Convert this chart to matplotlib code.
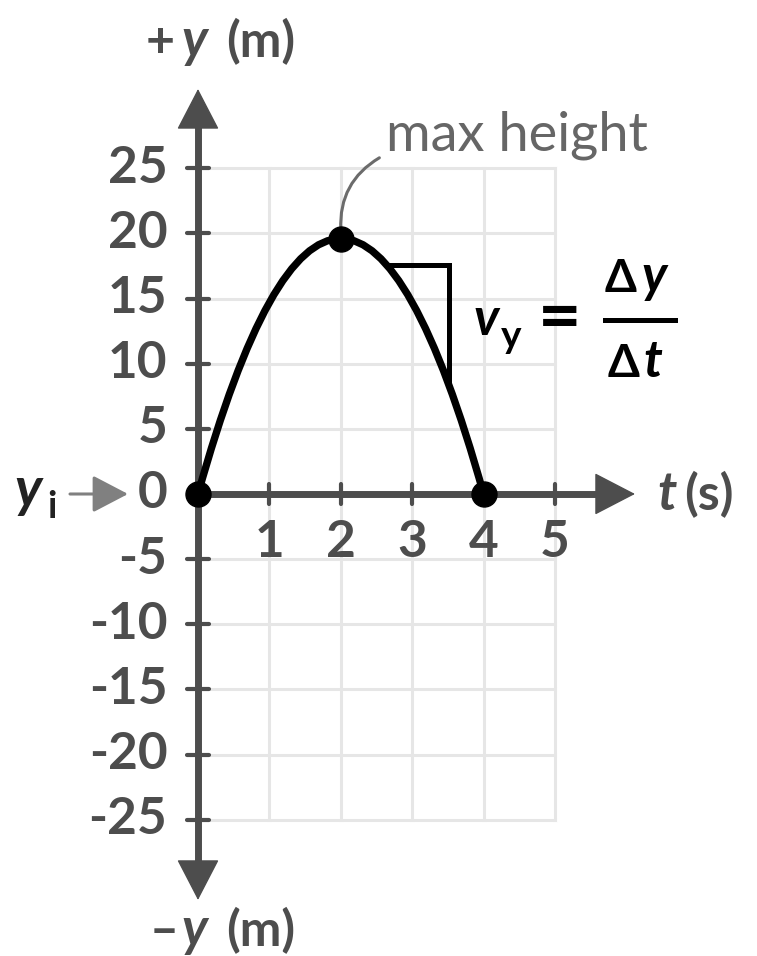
import matplotlib
matplotlib.use('Agg')
import matplotlib.pyplot as plt
from matplotlib.path import Path
from matplotlib.patches import PathPatch
from matplotlib.lines import Line2D

plt.rcParams['font.family'] = ['Lato', 'DejaVu Sans']

# axis ticks
t_ticks = [1, 2, 3, 4, 5]
y_ticks = [-25, -20, -15, -10, -5, 0, 5, 10, 15, 20, 25]

# trajectory: launch, top, landing
t_launch, y_launch = 0, 0
t_peak, y_peak = 2, 19.6
t_land, y_land = 4, 0

# slope triangle on the way down
tri_t = [2.66, 3.52, 3.52]
tri_y = [17.6, 17.6, 8.4]

AX = '#4d4d4d'
GRID = '#e6e6e6'
W, H = 757, 956

fig = plt.figure(figsize=(W / 100, H / 100), dpi=100)
ax = fig.add_axes([0, 0, 1, 1])
ax.set_xlim(-2.773, 7.829)
ax.set_ylim(-35.46, 37.91)
ax.axis('off')


def fx(x, y):
    # pixel (top-left origin) -> figure fraction
    return x / W, 1 - y / H


def ftext(x, y, s, **kw):
    kw.setdefault('va', 'baseline')
    kw.setdefault('ha', 'left')
    fig.text(*fx(x, y), s, **kw)


# grid
for t in t_ticks:
    ax.plot([t, t], [y_ticks[0], y_ticks[-1]], color=GRID, lw=2.2, zorder=1)
for y in y_ticks:
    ax.plot([0, t_ticks[-1]], [y, y], color=GRID, lw=2.2, zorder=1)

# axes with arrow heads
ax.plot([0, 0], [-28.5, 28.5], color=AX, lw=5, zorder=2, solid_capstyle='butt')
ax.plot([0, 5.8], [0, 0], color=AX, lw=5, zorder=2, solid_capstyle='butt')
head = dict(arrowstyle='-|>,head_length=27,head_width=14', mutation_scale=1,
            lw=1, color=AX, shrinkA=0, shrinkB=0)
ax.annotate('', xy=(0, 31.08), xytext=(0, 20), arrowprops=head, zorder=2)
ax.annotate('', xy=(0, -31.16), xytext=(0, -20), arrowprops=head, zorder=2)
ax.annotate('', xy=(6.12, 0), xytext=(5, 0), arrowprops=head, zorder=2)

# tick marks
ytk = [y for y in y_ticks if y != 0]
ax.hlines(ytk, -0.15, 0.15, color=AX, lw=3, zorder=2, capstyle='round')
ax.vlines(t_ticks, -0.8, 0.8, color=AX, lw=3, zorder=2, capstyle='round')

# tick labels
for y in y_ticks:
    ax.text(-0.43, y, str(y), ha='right', va='center', fontsize=37,
            fontweight='bold', color=AX)
for t in t_ticks:
    ax.text(t, -3.7, str(t), ha='center', va='center', fontsize=37,
            fontweight='bold', color=AX)

# trajectory as quadratic curve through launch, peak and landing
ctrl_y = 2 * y_peak - (y_launch + y_land) / 2
path = Path([(t_launch, y_launch), (t_peak, ctrl_y), (t_land, y_land)],
            [Path.MOVETO, Path.CURVE3, Path.CURVE3])
ax.add_patch(PathPatch(path, fill=False, lw=5.3, color='black', zorder=3,
                       capstyle='round'))
ax.plot([t_launch, t_peak, t_land], [y_launch, y_peak, y_land], 'o',
        ms=18, color='black', zorder=4)

# slope triangle
ax.plot(tri_t, tri_y, color='black', lw=3.6, zorder=3, solid_joinstyle='miter')

# max height label with leader
ax.annotate('', xy=(t_peak, y_peak + 0.7), xytext=(2.54, 25.8),
            arrowprops=dict(arrowstyle='-', color='#6b6b6b', lw=2.2,
                            connectionstyle='arc3,rad=0.3', shrinkA=0, shrinkB=0))
ftext(386, 150, 'max height', fontsize=39, color='#666666')

# v_y = dy/dt
ftext(474, 335, 'v', fontsize=37, fontweight='bold', style='italic', color='black')
ftext(501, 348, 'y', fontsize=28, fontweight='bold', color='black')
ftext(560, 319, '=', fontsize=54, fontweight='bold', color='black', ha='center', va='center')
fig.add_artist(Line2D([605 / W, 675 / W], [1 - 320 / H, 1 - 320 / H],
                      color='black', lw=3.6))
ftext(605, 292, 'Δ', fontsize=33, fontweight='bold', color='black')
ftext(641, 292, 'y', fontsize=37, fontweight='bold', style='italic', color='black')
ftext(608, 377, 'Δ', fontsize=33, fontweight='bold', color='black')
ftext(643, 377, 't', fontsize=37, fontweight='bold', style='italic', color='black')

# y_i marker
ftext(14, 507, 'y', fontsize=40, fontweight='bold', style='italic', color='#222222')
ftext(47, 518, 'i', fontsize=27, fontweight='bold', color='#222222')
ax.annotate('', xy=(128, H - 494), xytext=(70, H - 494),
            xycoords='figure pixels', textcoords='figure pixels',
            arrowprops=dict(arrowstyle='-|>,head_length=22,head_width=11.5',
                            mutation_scale=1, lw=2.2, color='#808080',
                            shrinkA=0, shrinkB=0))

# axis titles
ftext(657, 510, 't', fontsize=38, fontweight='bold', style='italic', color=AX)
ftext(684, 510, '(s)', fontsize=36, fontweight='bold', color=AX)
ftext(146, 57, '+', fontsize=36, fontweight='bold', color=AX)
ftext(181, 57, 'y', fontsize=38, fontweight='bold', style='italic', color=AX)
ftext(226, 57, '(m)', fontsize=36, fontweight='bold', color=AX)
ftext(150, 946, '–', fontsize=36, fontweight='bold', color=AX)
ftext(181, 946, 'y', fontsize=38, fontweight='bold', style='italic', color=AX)
ftext(226, 946, '(m)', fontsize=36, fontweight='bold', color=AX)

fig.savefig('out.png', dpi=100)
